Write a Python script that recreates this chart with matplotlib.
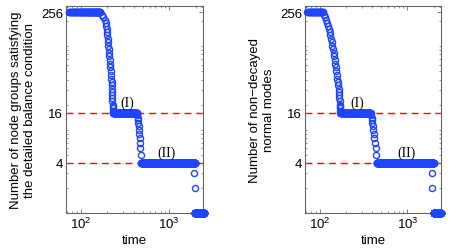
import numpy as np
import matplotlib
matplotlib.use('Agg')
import matplotlib.pyplot as plt
from matplotlib.ticker import LogLocator, NullFormatter, FixedLocator

plt.rcParams['font.family'] = ['Liberation Sans', 'DejaVu Sans']
plt.rcParams['mathtext.default'] = 'regular'

# y ticks and dashed reference levels
y_ticks = [4, 16, 256]
ref_levels = [16, 4]

# ---- left panel: node groups satisfying detailed balance ----
# plateaus (value, first time, last time), sampled every time unit
p1_run_vals = [256, 16, 4, 1]
p1_run_start = [73, 232, 484, 1960]
p1_run_end = [165, 433, 1950, 2470]
# decay steps between plateaus
p1_drop_t = [174, 180, 186, 191, 194, 197, 198.5, 200, 201.5, 203, 204.5, 206,
             208, 209.5, 211.5, 213, 215, 217.5, 219.5, 221, 223, 224, 225,
             225.7, 226.5, 227.5, 228.5, 229.5, 230, 230.5, 231,
             436, 440, 444, 448, 452, 456, 460, 464, 468, 472, 478,
             1930, 1940]
p1_drop_n = [240, 224, 208, 192, 176, 160, 148, 136, 124, 112, 102, 92,
             84, 76, 68, 62, 56, 50, 45, 41, 37, 34, 31,
             28, 26, 24, 22, 20, 19, 18, 17,
             15, 14, 13, 12, 11, 10, 9, 8, 7, 6, 5,
             3, 2]

# ---- right panel: non-decayed normal modes ----
p2_run_vals = [256, 16, 4, 1]
p2_run_start = [72, 172, 448, 2000]
p2_run_end = [109, 380, 1990, 2400]
p2_drop_t = [111.6, 113.9, 117.3, 120.1, 123.2, 127.2, 130.5, 132.6, 134.7,
             137.1, 139.7, 142.2, 144.1, 146.0, 147.9, 149.8, 151.8, 154.6,
             157.0, 159.5, 162.0, 162.9, 164.2, 165.4, 166.3, 167.6, 168.5,
             169.4, 169.8, 170.6, 171.0,
             385, 390, 395, 400, 405, 410, 415, 420, 427, 435, 442,
             1930, 1935]
p2_drop_n = [240, 224, 208, 192, 176, 160, 148, 136, 124,
             112, 102, 92, 84, 76, 68, 62, 56, 50,
             45, 41, 37, 34, 31, 28, 26, 24, 22,
             20, 19, 18, 17,
             15, 14, 13, 12, 11, 10, 9, 8, 7, 6, 5,
             3, 2]

ylabels = ['Number of node groups satisfying\nthe detailed balance condition',
           'Number of non\u2212decayed\nnormal modes']
# label anchors (time, value) for the plateau tags
tag_text = ['(I)', '(II)']
p1_tag_pos = [(334, 21.5), (946, 5.4)]
p2_tag_pos = [(271, 21.5), (972, 5.4)]

blue = '#1f45ff'

fig = plt.figure(figsize=(4.57, 2.51), dpi=100)
W, H = 457, 251
ax1 = fig.add_axes([66 / W, 1 - 214 / H, 137 / W, 207.5 / H])
ax2 = fig.add_axes([305 / W, 1 - 214 / H, 136 / W, 207.5 / H])

panels = [
    (ax1, p1_run_vals, p1_run_start, p1_run_end, p1_drop_t, p1_drop_n, p1_tag_pos),
    (ax2, p2_run_vals, p2_run_start, p2_run_end, p2_drop_t, p2_drop_n, p2_tag_pos),
]

for i, (ax, rv, rs, re, dt, dn, tags) in enumerate(panels):
    ax.set_xscale('log')
    ax.set_yscale('log')
    for lev in ref_levels:
        ax.axhline(lev, color='red', ls=(0, (5, 3.5)), lw=1.0, zorder=1)
    for v, a, b in zip(rv, rs, re):
        t = np.arange(a, b + 1, 1.0)
        ax.plot(t, np.full_like(t, v), 'o', mfc='none', mec=blue, ms=4.4,
                mew=1.0, clip_on=False, zorder=3)
    ax.plot(dt, dn, 'o', mfc='none', mec=blue, ms=4.4, mew=1.0,
            clip_on=False, zorder=3)
    for txt, (tx, ty) in zip(tag_text, tags):
        ax.text(tx, ty, txt, family='Liberation Serif', fontsize=10,
                ha='center', va='center', zorder=4)

    ax.set_xlim(68, 2420)
    ax.set_ylim(1, 310)
    ax.yaxis.set_major_locator(FixedLocator(y_ticks))
    ax.set_yticklabels([str(v) for v in y_ticks])
    ax.yaxis.set_minor_locator(LogLocator(base=10, subs=np.arange(1, 10)))
    ax.yaxis.set_minor_formatter(NullFormatter())
    ax.xaxis.set_major_locator(FixedLocator([100, 1000]))
    ax.set_xticklabels([r'$10^{2}$', r'$10^{3}$'])
    ax.xaxis.set_minor_locator(LogLocator(base=10, subs=np.arange(2, 10)))
    ax.xaxis.set_minor_formatter(NullFormatter())
    ax.tick_params(which='both', direction='in', top=True, right=True,
                   color='0.4', labelsize=9.5, pad=2)
    ax.tick_params(which='major', length=3, width=0.6)
    ax.tick_params(which='minor', length=1.6, width=0.5)
    for s in ax.spines.values():
        s.set_color('0.4')
        s.set_linewidth(0.8)
    ax.set_xlabel('time', fontsize=9.5, labelpad=2.5)
    ax.set_ylabel(ylabels[i], fontsize=9.5, labelpad=4, linespacing=1.2)

fig.savefig('out.png', dpi=100)
